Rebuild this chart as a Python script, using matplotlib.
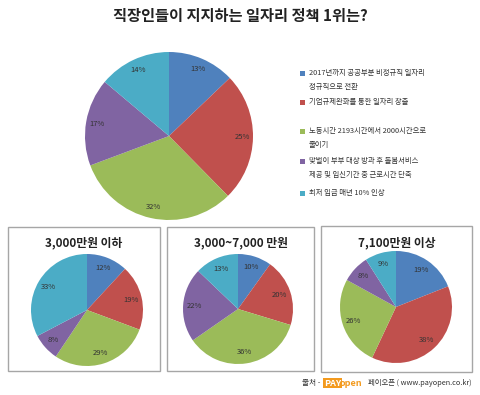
import matplotlib
matplotlib.use("Agg")
import matplotlib.pyplot as plt
from matplotlib.patches import Rectangle

plt.rcParams["font.family"] = ["Noto Sans CJK KR", "DejaVu Sans"]

W, H = 480, 395

title = "직장인들이 지지하는 일자리 정책 1위는?"
policies = [
    "2017년까지 공공부분 비정규직 일자리\n정규직으로 전환",
    "기업규제완화를 통한 일자리 창출",
    "노동시간 2193시간에서 2000시간으로\n줄이기",
    "맞벌이 부부 대상 방과 후 돌봄서비스\n제공 및 임신기간 중 근로시간 단축",
    "최저 임금 매년 10% 인상",
]
colors = ["#4F81BD", "#C0504D", "#9BBB59", "#8064A2", "#4BACC6"]

total = [13, 25, 32, 17, 14]
group_titles = ["3,000만원 이하", "3,000~7,000 만원", "7,100만원 이상"]
group_values = [
    [12, 19, 29, 8, 33],
    [10, 20, 36, 22, 13],
    [19, 38, 26, 8, 9],
]

fig = plt.figure(figsize=(W / 100, H / 100), dpi=100)
fig.patch.set_facecolor("white")


def draw_pie(cx, cy, r, values, labeldist):
    """Unit pie centred at (cx, cy) px from top-left, radius r px."""
    ax = fig.add_axes([(cx - r) / W, (H - cy - r) / H, 2 * r / W, 2 * r / H])
    ax.pie(values, colors=colors, startangle=90, counterclock=False,
           labels=[f"{v}%" for v in values], labeldistance=labeldist,
           textprops=dict(fontsize=5.5, color="#333333", va="center"),
           wedgeprops=dict(linewidth=0), radius=1.0)
    for t in ax.texts:
        t.set_horizontalalignment("center")
    ax.set_xlim(-1, 1)
    ax.set_ylim(-1, 1)
    ax.set_aspect("equal")
    ax.axis("off")
    return ax


fig.text(240 / W, 1 - 16 / H, title, ha="center", va="center",
         fontsize=11, fontweight="bold", color="#222222")

# main pie
draw_pie(169, 136, 84, total, 0.87)

# legend
leg_y = [73, 102, 131, 161, 193]
for label, c, y in zip(policies, colors, leg_y):
    fig.patches.append(Rectangle((300 / W, 1 - (y + 2.5) / H), 4.5 / W, 4.5 / H,
                                 transform=fig.transFigure, facecolor=c,
                                 edgecolor="none"))
    for i, line in enumerate(label.split("\n")):
        fig.text(309 / W, 1 - (y + i * 14) / H, line, ha="left", va="center",
                 fontsize=5.3, color="#333333")

# lower boxes
boxes = [(8, 227, 152, 144), (167, 227, 147, 144), (321, 226, 151, 146)]
centers = [(87, 310, 56), (238, 309, 55), (396, 307, 56)]
for (bx, by, bw, bh), (cx, cy, r), gt, vals in zip(boxes, centers, group_titles, group_values):
    fig.patches.append(Rectangle((bx / W, 1 - (by + bh) / H), bw / W, bh / H,
                                 transform=fig.transFigure, facecolor="none",
                                 edgecolor="#A6A6A6", linewidth=1))
    fig.text((bx + bw / 2) / W, 1 - 243 / H, gt, ha="center", va="center",
             fontsize=8.5, fontweight="bold", color="#222222")
    draw_pie(cx, cy, r, vals, 0.8)

# source
fig.text(320 / W, 1 - 383 / H, "출처 -", ha="right", va="center",
         fontsize=5.5, color="#333333")
fig.text(324 / W, 1 - 383 / H, "PAY", ha="left", va="center",
         fontsize=6.5, fontweight="bold", color="white",
         bbox=dict(boxstyle="square,pad=0.1", facecolor="#F39A1E", edgecolor="none"))
fig.text(340 / W, 1 - 383 / H, "open", ha="left", va="center",
         fontsize=6.5, fontweight="bold", style="italic", color="#F39A1E")
fig.text(471 / W, 1 - 383 / H, "페이오픈 ( www.payopen.co.kr)", ha="right",
         va="center", fontsize=5.3, color="#333333")

fig.savefig("out.png", dpi=100)
